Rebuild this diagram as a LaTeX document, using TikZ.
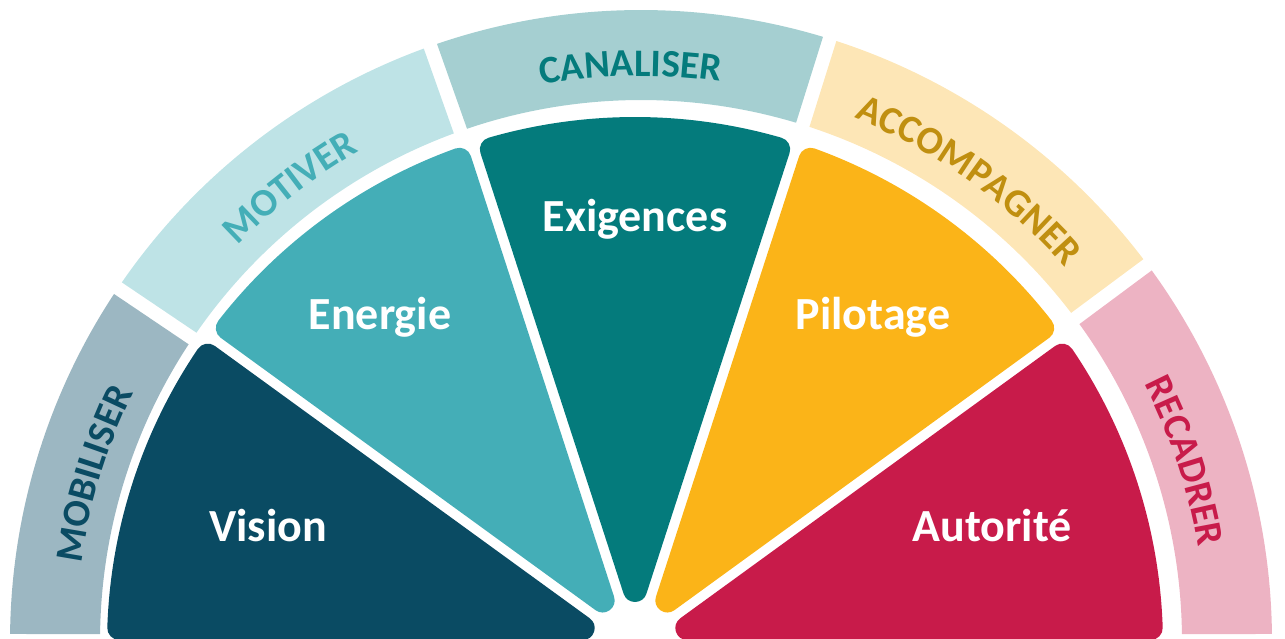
\documentclass[tikz,border=0pt]{standalone}
\usepackage{fontspec}
\setmainfont{Carlito}
\usetikzlibrary{decorations.text}
\definecolor{cVision}{HTML}{0A4B63}
\definecolor{cEnergie}{HTML}{44AEB7}
\definecolor{cExig}{HTML}{047B7C}
\definecolor{cPilot}{HTML}{FBB418}
\definecolor{cAutor}{HTML}{C81B4A}
\definecolor{rMob}{HTML}{9CB7C2}
\definecolor{rMot}{HTML}{BEE3E6}
\definecolor{rCan}{HTML}{A5CFD1}
\definecolor{rAcc}{HTML}{FDE6B6}
\definecolor{rRec}{HTML}{EDB3C3}
\definecolor{tAcc}{HTML}{C08F10}
\newcommand\ringfont{\bfseries\fontsize{39}{39}\selectfont}
% wedge: R = 528, corner radius 12, half gap 5
\newcommand\wedgefill[3]{%
  \pgfmathsetmacro\wa{#1+1.89}\pgfmathsetmacro\wb{#2-1.89}\pgfmathsetmacro\wm{(#1+#2)/2}%
  \filldraw[wedgestyle, fill=#3, draw=#3] (\wm:55) -- (\wa:516) arc[start angle=\wa, end angle=\wb, radius=516] -- cycle;}
% ring: inner 541, outer 631, half gap 7
\newcommand\ringseg[3]{%
  \pgfmathsetmacro\ra{#1+asin(7/541)}\pgfmathsetmacro\rb{#2-asin(7/541)}%
  \pgfmathsetmacro\rc{#2-asin(7/631)}\pgfmathsetmacro\rd{#1+asin(7/631)}%
  \fill[#3] (\ra:541) arc[start angle=\ra, end angle=\rb, radius=541] -- (\rc:631) arc[start angle=\rc, end angle=\rd, radius=631] -- cycle;}
\newcommand\ringlabel[4]{%
  \path[decorate, decoration={text along path, text align=center, text={|\ringfont\color{#3}|#4}}] (#2:565) arc[start angle=#2, end angle=#1, radius=565];}
\begin{document}
\begin{tikzpicture}[x=1pt,y=1pt,
  wedgestyle/.style={line width=24pt, line join=round},
  wl/.style={text=white, font=\bfseries\fontsize{46}{46}\selectfont, anchor=base, inner sep=0pt}]
\useasboundingbox (0,0) rectangle (1285,639);
\begin{scope}[shift={(641,-2)}]
  \ringseg{146}{180}{rMob}
  \ringseg{109.5}{146}{rMot}
  \ringseg{72.6}{109.5}{rCan}
  \ringseg{36.6}{72.6}{rAcc}
  \ringseg{0}{36.6}{rRec}
  \ringlabel{146}{180}{cVision}{MOBILISER}
  \ringlabel{109.5}{146}{cEnergie}{MOTIVER}
  \ringlabel{72.6}{109.5}{cExig}{CANALISER}
  \ringlabel{36.6}{72.6}{tAcc}{ACCOMPAGNER}
  \ringlabel{0}{36.6}{cAutor}{RECADRER}
\end{scope}
\begin{scope}[shift={(635,-6)}]
  \wedgefill{144}{180}{cVision}
  \wedgefill{108}{144}{cEnergie}
  \wedgefill{72}{108}{cExig}
  \wedgefill{36}{72}{cPilot}
  \wedgefill{0}{36}{cAutor}
\end{scope}
\node[wl] (vision) at (268,97) {Vision};
\node[wl] (energie) at (380,309) {Energie};
\node[wl] (exig) at (635,407) {Exigences};
\node[wl] (pilot) at (873,309) {Pilotage};
\node[wl] (autor) at (992,97) {Autorité};
\end{tikzpicture}
\end{document}
